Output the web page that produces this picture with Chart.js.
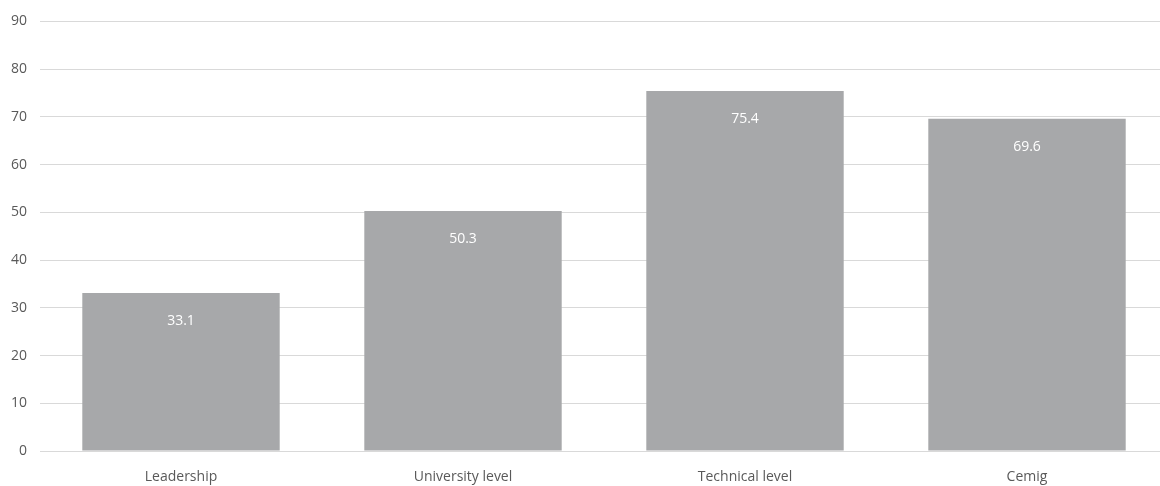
<!DOCTYPE html>
<html>
<head>
<meta charset="utf-8">
<script src="https://cdn.jsdelivr.net/npm/chart.js@4"></script>
<style>
    html, body { margin: 0; padding: 0; background: #fff; overflow: hidden; }
    #wrap { width: 1168px; height: 486px; }
</style>
</head>
<body>
<div id="wrap"><canvas id="barChart"></canvas></div>
<script>
// --- Data ---
const categories = ["Leadership", "University level", "Technical level", "Cemig"];
const values = [33.1, 50.3, 75.4, 69.6];
const yTicks = [0, 10, 20, 30, 40, 50, 60, 70, 80, 90];

const FONT = "'Open Sans', 'Noto Sans', sans-serif";

// --- Value labels inside the bars ---
const valueLabels = {
    id: 'valueLabels',
    afterDatasetsDraw(chart) {
        const ctx = chart.ctx;
        const meta = chart.getDatasetMeta(0);
        ctx.save();
        ctx.fillStyle = '#ffffff';
        ctx.font = '14px ' + FONT;
        ctx.textAlign = 'center';
        ctx.textBaseline = 'middle';
        meta.data.forEach((bar, i) => {
            ctx.fillText(values[i].toFixed(1), bar.x, bar.y + 28);
        });
        ctx.restore();
    }
};

new Chart(document.getElementById('barChart'), {
    type: 'bar',
    data: {
        labels: categories,
        datasets: [{
            data: values,
            backgroundColor: '#a7a8aa',
            borderWidth: 0,
            barPercentage: 0.7,
            categoryPercentage: 1.0
        }]
    },
    options: {
        responsive: true,
        maintainAspectRatio: false,
        animation: false,
        layout: { padding: { top: 20, bottom: 0 } },
        plugins: {
            legend: { display: false },
            tooltip: { enabled: false }
        },
        scales: {
            x: {
                afterFit(scale) { scale.height = 35; },
                grid: { display: false, drawTicks: false },
                border: { display: true, color: '#d9d9d9' },
                ticks: { color: '#595959', font: { family: FONT, size: 14 }, padding: 18 }
            },
            y: {
                min: 0,
                max: 90,
                afterBuildTicks(scale) {
                    scale.ticks = yTicks.map(v => ({ value: v }));
                },
                afterFit(scale) { scale.width = 40; },
                grid: { color: '#d9d9d9', drawTicks: false },
                border: { display: false },
                ticks: { color: '#595959', font: { family: FONT, size: 14 }, padding: 13 }
            }
        }
    },
    plugins: [valueLabels]
});
</script>
</body>
</html>
